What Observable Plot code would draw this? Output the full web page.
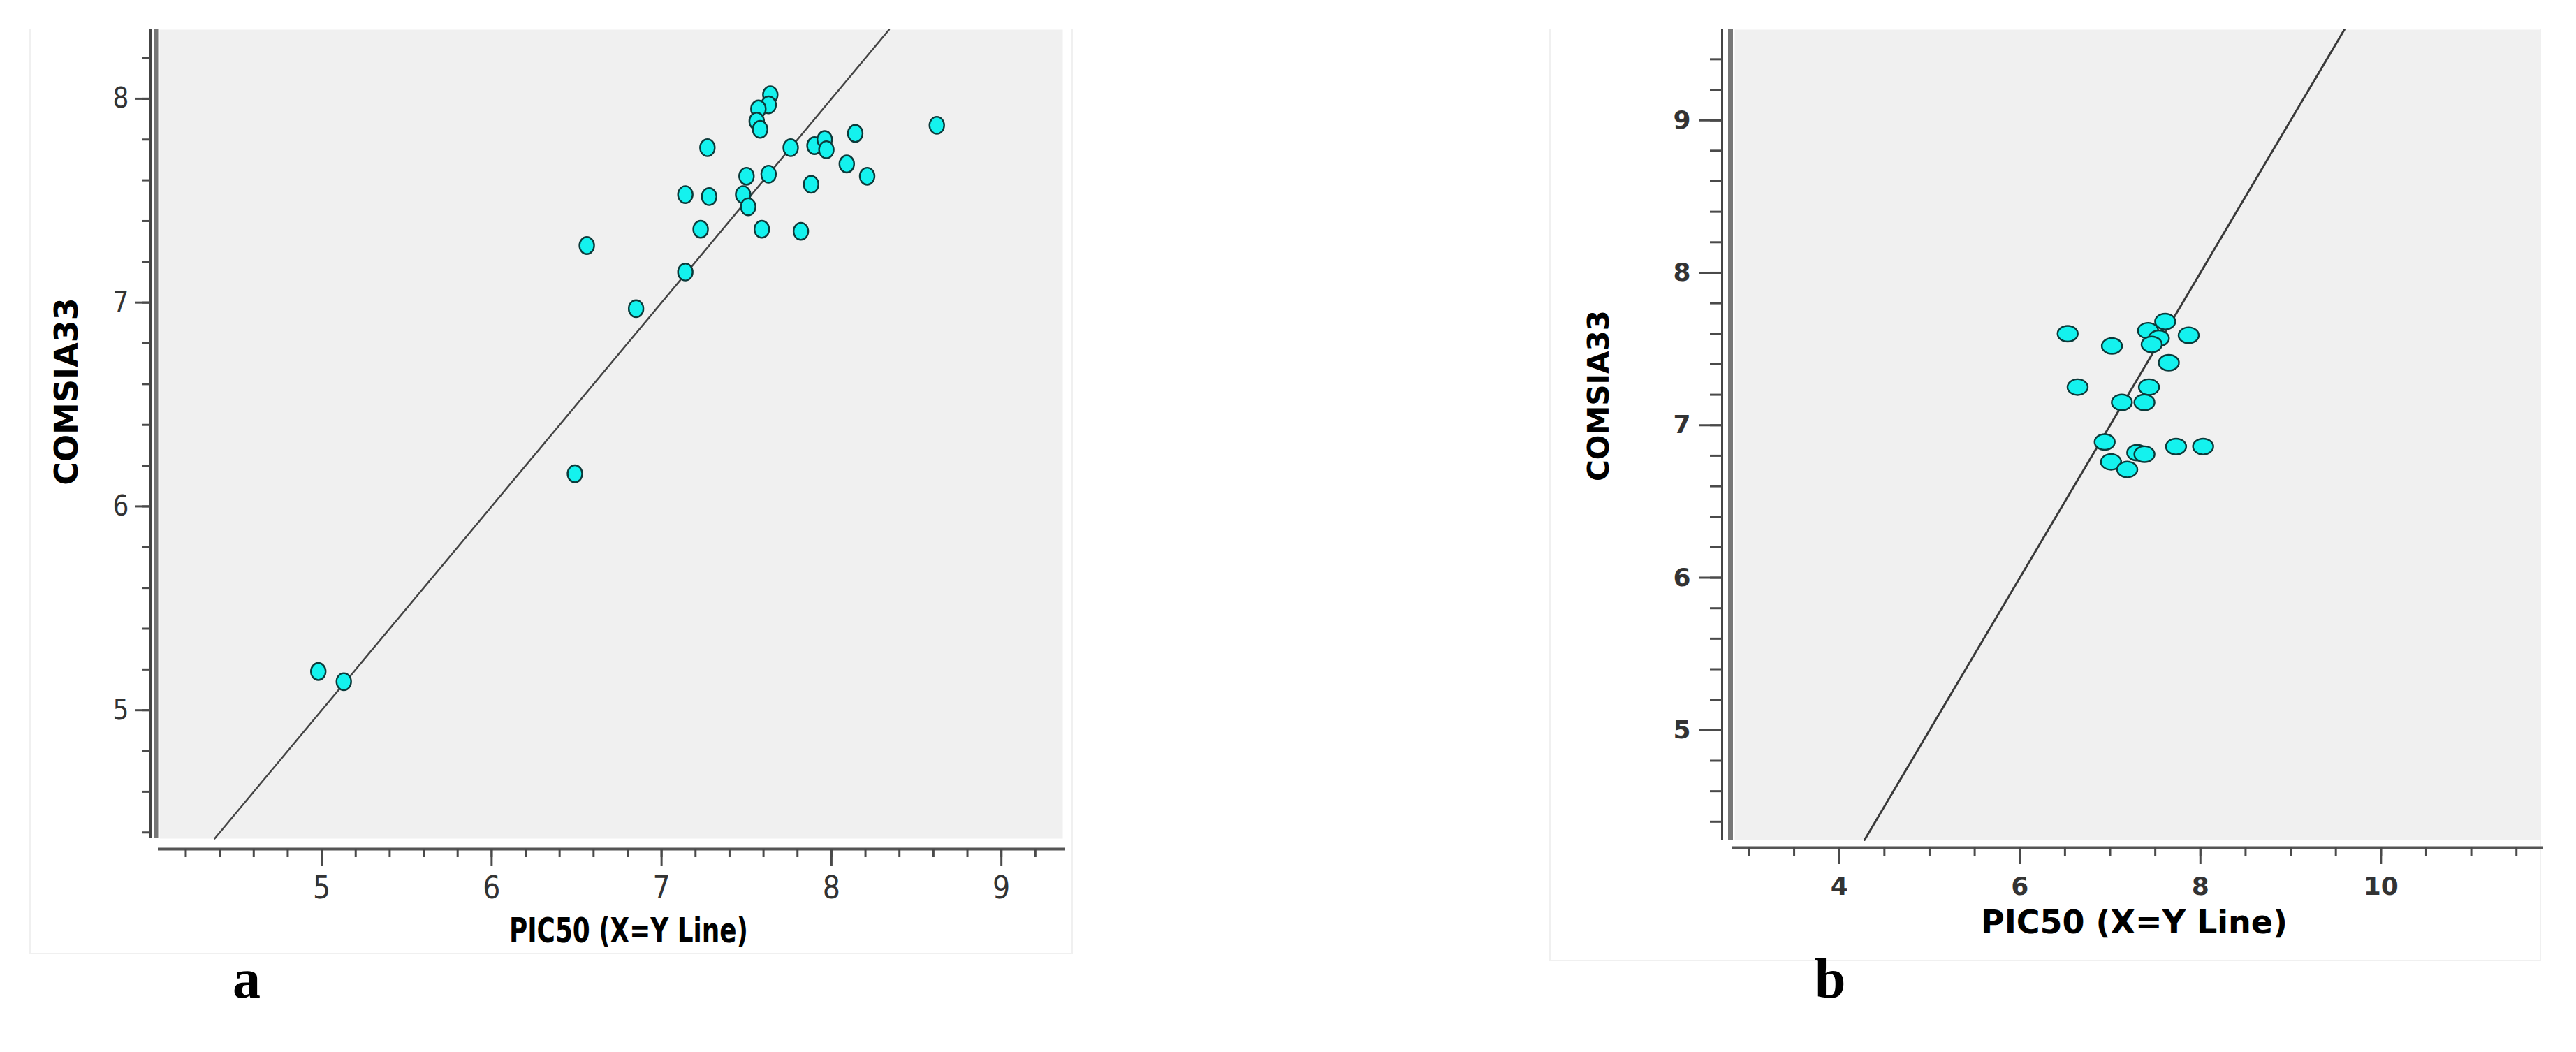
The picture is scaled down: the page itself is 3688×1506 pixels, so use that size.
<!DOCTYPE html>
<html><head><meta charset="utf-8">
<script src="https://cdn.jsdelivr.net/npm/d3@7"></script>
<script src="https://cdn.jsdelivr.net/npm/@observablehq/plot@0.6"></script>
<style>
html,body{margin:0;padding:0;background:#fff;}
#page{position:relative;width:3688px;height:1506px;overflow:hidden;background:#fff;}
.panel{position:absolute;top:0;}
.frame{position:absolute;border:2px solid #f0f0f0;border-top:none;box-sizing:border-box;}
.tag{position:absolute;font-family:'Liberation Serif','DejaVu Serif',serif;font-weight:bold;font-size:80px;line-height:1;color:#000;}
</style></head><body>
<div id="page">
  <div class="frame" style="left:42px;top:42px;width:1494px;height:1324px"></div>
  <div class="frame" style="left:2218px;top:42px;width:1420px;height:1334px"></div>
  <div id="pa" class="panel" style="left:0px"></div>
  <div id="pb" class="panel" style="left:2200px"></div>
  <div class="tag" style="left:333px;top:1361px">a</div>
  <div class="tag" style="left:2598px;top:1361px">b</div>
</div>
<script>
// ---- data: panel a (training set) ----
const pic50A  = [7.64, 7.63, 7.57, 7.56, 7.58, 7.27, 7.76, 7.90, 7.96, 7.97, 8.14, 8.62, 8.09, 8.21, 7.88, 7.50, 7.63, 7.14, 7.28, 7.48, 7.51, 7.23, 7.59, 7.82, 7.14, 6.85, 6.56, 6.49, 4.98, 5.13];
const comsiaA = [8.02, 7.97, 7.95, 7.89, 7.85, 7.76, 7.76, 7.77, 7.80, 7.75, 7.83, 7.87, 7.68, 7.62, 7.58, 7.62, 7.63, 7.53, 7.52, 7.53, 7.47, 7.36, 7.36, 7.35, 7.15, 6.97, 7.28, 6.16, 5.19, 5.14];
// ---- data: panel b (test set) ----
const pic50B  = [6.53, 7.02, 7.42, 7.61, 7.54, 7.46, 7.87, 7.65, 6.64, 7.43, 7.13, 7.38, 6.94, 7.73, 8.03, 7.01, 7.30, 7.38, 7.19];
const comsiaB = [7.60, 7.52, 7.62, 7.68, 7.57, 7.53, 7.59, 7.41, 7.25, 7.25, 7.15, 7.15, 6.89, 6.86, 6.86, 6.76, 6.82, 6.81, 6.71];
// ---- axes ----
const xTicksA = [5, 6, 7, 8, 9];
const yTicksA = [5, 6, 7, 8];
const xTicksB = [4, 6, 8, 10];
const yTicksB = [5, 6, 7, 8, 9];
const xDomainA = [4.046, 9.361], yDomainA = [4.370, 8.339];
const xDomainB = [2.842, 11.769], yDomainB = [4.280, 9.594];
const xLabel = "PIC50 (X=Y Line)";
const yLabel = "COMSIA33";

const minorXA = d3.range(42, 93, 2).map(d => d / 10);
const minorYA = d3.range(22, 42).map(d => d / 5);
const minorXB = d3.range(6, 24).map(d => d / 2);
const minorYB = d3.range(22, 48).map(d => d / 5);

function ellipse(rx, ry) {
  return {draw(ctx) {
    const k = 0.5523;
    ctx.moveTo(rx, 0);
    ctx.bezierCurveTo(rx, ry * k, rx * k, ry, 0, ry);
    ctx.bezierCurveTo(-rx * k, ry, -rx, ry * k, -rx, 0);
    ctx.bezierCurveTo(-rx, -ry * k, -rx * k, -ry, 0, -ry);
    ctx.bezierCurveTo(rx * k, -ry, rx, -ry * k, rx, 0);
    ctx.closePath();
  }};
}
const identity = (xd, yd) => [Math.max(xd[0], yd[0]), Math.min(xd[1], yd[1])];
const fmt = d => String(d);

const tableA = pic50A.map((x, i) => ({x, y: comsiaA[i]}));
const tableB = pic50B.map((x, i) => ({x, y: comsiaB[i]}));

const narrow = "'Liberation Sans Narrow','DejaVu Sans Condensed','Arial Narrow',sans-serif";
const wide = "'DejaVu Sans',Verdana,sans-serif";
const tickCol = "#4a4a4a", labCol = "#333";

const plotA = Plot.plot({
  width: 1560, height: 1420,
  marginLeft: 228, marginRight: 39, marginTop: 42, marginBottom: 220,
  x: {domain: xDomainA}, y: {domain: yDomainA},
  style: {background: "transparent", overflow: "visible"},
  marks: [
    Plot.frame({fill: "#f0f0f0", stroke: null}),
    Plot.ruleY([yDomainA[0]], {dy: 15, stroke: "#555", strokeWidth: 4, insetLeft: -2, insetRight: -4}),
    Plot.ruleX([xDomainA[0]], {dx: -13, stroke: "#444", strokeWidth: 3}),
    Plot.ruleX([xDomainA[0]], {dx: -5, stroke: "#777", strokeWidth: 6}),
    Plot.axisX({ticks: minorXA, tickSize: 12, tickFormat: () => "", dy: 15, stroke: tickCol, strokeWidth: 3, label: null}),
    Plot.axisX({ticks: xTicksA, tickSize: 25, tickPadding: 14, dy: 15, stroke: tickCol, strokeWidth: 3, label: null,
      tickFormat: fmt, fontFamily: narrow, fontSize: 44, fill: labCol}),
    Plot.axisY({ticks: minorYA, tickSize: 12, tickFormat: () => "", dx: -13, stroke: tickCol, strokeWidth: 3, label: null}),
    Plot.axisY({ticks: yTicksA, tickSize: 22, tickPadding: 9, dx: -13, stroke: tickCol, strokeWidth: 3, label: null,
      tickFormat: fmt, fontFamily: narrow, fontSize: 40, fill: labCol}),
    Plot.line(identity(xDomainA, yDomainA), {x: d => d, y: d => d, stroke: "#444", strokeWidth: 2.5}),
    Plot.dot(tableA, {x: "x", y: "y", symbol: ellipse(10.5, 12.2), fill: "#14f2ee", stroke: "#0c3a3a", strokeWidth: 2.4}),
    Plot.text([xLabel], {frameAnchor: "bottom", dx: 25, dy: 132, fontFamily: narrow, fontWeight: "bold", fontSize: 50, fill: "#000", lineAnchor: "middle", textAnchor: "middle"}),
    Plot.text([yLabel], {frameAnchor: "left", dx: -132, dy: -61, rotate: -90, fontFamily: wide, fontWeight: "bold", fontSize: 46, fill: "#000", lineAnchor: "middle", textAnchor: "middle"})
  ]
});
document.getElementById("pa").appendChild(plotA);
// condense the narrow-font title of panel a to its measured width
plotA.querySelectorAll("text").forEach(t => {
  if (t.textContent === xLabel) { t.setAttribute("textLength", 342); t.setAttribute("lengthAdjust", "spacingAndGlyphs"); }
});

const plotB = Plot.plot({
  width: 1488, height: 1420,
  marginLeft: 283, marginRight: 51, marginTop: 42, marginBottom: 218,
  x: {domain: xDomainB}, y: {domain: yDomainB},
  style: {background: "transparent", overflow: "visible"},
  marks: [
    Plot.frame({fill: "#f0f0f0", stroke: null}),
    Plot.ruleY([yDomainB[0]], {dy: 11, stroke: "#555", strokeWidth: 4, insetLeft: -3, insetRight: -4}),
    Plot.ruleX([xDomainB[0]], {dx: -18, stroke: "#444", strokeWidth: 3}),
    Plot.ruleX([xDomainB[0]], {dx: -6, stroke: "#777", strokeWidth: 7}),
    Plot.axisX({ticks: minorXB, tickSize: 12, tickFormat: () => "", dy: 11, stroke: tickCol, strokeWidth: 3, label: null}),
    Plot.axisX({ticks: xTicksB, tickSize: 24, tickPadding: 18, dy: 11, stroke: tickCol, strokeWidth: 3, label: null,
      tickFormat: fmt, fontFamily: wide, fontWeight: "bold", fontSize: 36, fill: labCol}),
    Plot.axisY({ticks: minorYB, tickSize: 17, tickFormat: () => "", dx: -18, stroke: tickCol, strokeWidth: 3, label: null}),
    Plot.axisY({ticks: yTicksB, tickSize: 33, tickPadding: 12, dx: -18, stroke: tickCol, strokeWidth: 3, label: null,
      tickFormat: fmt, fontFamily: wide, fontWeight: "bold", fontSize: 36, fill: labCol}),
    Plot.line(identity(xDomainB, yDomainB), {x: d => d, y: d => d, stroke: "#3a3a3a", strokeWidth: 3}),
    Plot.dot(tableB, {x: "x", y: "y", symbol: ellipse(14.5, 11.3), fill: "#14f2ee", stroke: "#0c3a3a", strokeWidth: 2.4}),
    Plot.text([xLabel], {frameAnchor: "bottom", dx: -5, dy: 119, fontFamily: wide, fontWeight: "bold", fontSize: 46, fill: "#000", lineAnchor: "middle", textAnchor: "middle"}),
    Plot.text([yLabel], {frameAnchor: "left", dx: -194, dy: -56, rotate: -90, fontFamily: wide, fontWeight: "bold", fontSize: 42, fill: "#000", lineAnchor: "middle", textAnchor: "middle"})
  ]
});
document.getElementById("pb").appendChild(plotB);
</script>
</body></html>
